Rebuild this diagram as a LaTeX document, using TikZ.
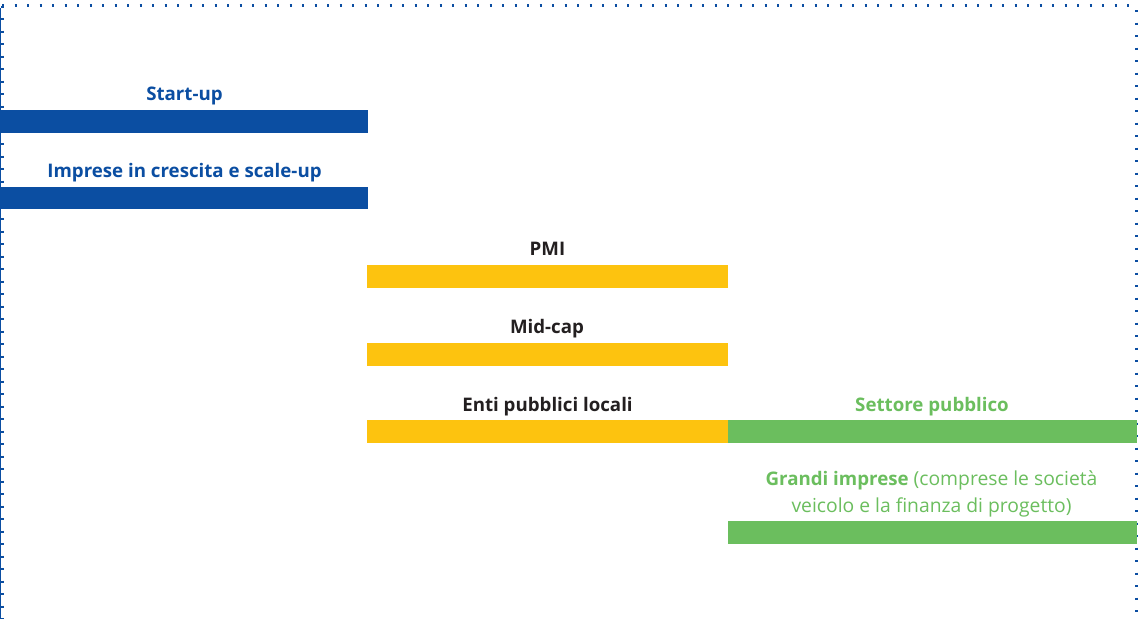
\documentclass[tikz,border=0pt]{standalone}
\usepackage{fontspec}
\setmainfont{Open Sans}
\definecolor{eblue}{HTML}{0B4EA2}
\definecolor{eyellow}{HTML}{FDC30F}
\definecolor{egreen}{HTML}{6BBE5E}
\definecolor{etext}{HTML}{231F20}
\newcommand{\bfsz}{\fontsize{18.7}{22}\selectfont\bfseries}
\begin{document}
\begin{tikzpicture}[x=1pt,y=-1pt,
  bar/.style={inner sep=0pt,outer sep=0pt},
  lbl/.style={font=\bfsz,anchor=base,inner sep=0pt},
  lblr/.style={font=\fontsize{19.3}{22}\selectfont,anchor=base,inner sep=0pt},
  border/.style={eblue,line width=2.2pt,dash pattern=on 2.2pt off 10.3pt,line cap=butt}]
\useasboundingbox (0,0) rectangle (1140,619);
\fill[white] (0,0) rectangle (1140,619);
% border
\draw[border] (2,5.5) -- (1137,5.5);
\draw[border] (1136.5,10) -- (1136.5,619);
\draw[border] (2.5,5.5) -- (2.5,619);
\draw[eblue,line width=1pt] (0.5,8) -- (0.5,619);
% bars
\fill[eblue] (0,110) rectangle (368,133) node[bar] (b1) {};
\fill[eblue] (0,187) rectangle (368,209) node[bar] (b2) {};
\fill[eyellow] (367,264.5) rectangle (728,287.5) node[bar] (b3) {};
\fill[eyellow] (367,343) rectangle (728,366) node[bar] (b4) {};
\fill[eyellow] (367,419.5) rectangle (728,442.5) node[bar] (b5) {};
\fill[egreen] (728,419.5) rectangle (1137,442.5) node[bar] (b6) {};
\fill[egreen] (728,521) rectangle (1137,543.5) node[bar] (b7) {};
% labels
\node[lbl,eblue] (t1) at (184.5,100.5) {Start-up};
\node[lbl,eblue] (t2) at (184.5,177.5) {Imprese in crescita e scale-up};
\node[lbl,etext] (t3) at (547.5,255) {PMI};
\node[lbl,etext] (t4) at (547,333) {Mid-cap};
\node[lbl,etext] (t5) at (547.5,411) {Enti pubblici locali};
\node[lbl,egreen] (t6) at (932,411) {Settore pubblico};
\node[lblr,egreen] (t7) at (931.5,485) {{\bfsz Grandi imprese} (comprese le società};
\node[lblr,egreen] (t8) at (931.5,512) {veicolo e la finanza di progetto)};
\end{tikzpicture}
\end{document}
